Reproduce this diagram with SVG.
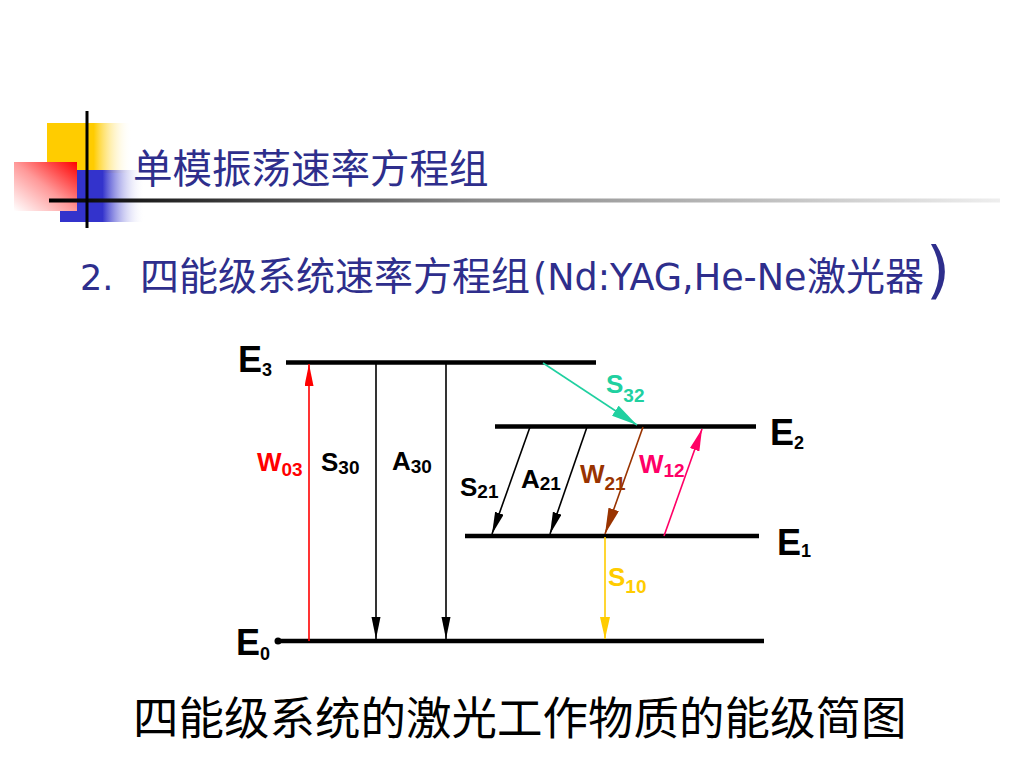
<svg xmlns="http://www.w3.org/2000/svg" width="1024" height="768" viewBox="0 0 1024 768">
<defs>
<linearGradient id="gY" x1="0" y1="0" x2="1" y2="0"><stop offset="0" stop-color="#ffcc00"/><stop offset="0.55" stop-color="#ffcc00"/><stop offset="1" stop-color="#ffffff" stop-opacity="0"/></linearGradient>
<linearGradient id="gB" x1="0" y1="0" x2="1" y2="0"><stop offset="0" stop-color="#3333cc"/><stop offset="0.5" stop-color="#3333cc"/><stop offset="1" stop-color="#ffffff" stop-opacity="0"/></linearGradient>
<linearGradient id="gR" x1="0" y1="1" x2="1" y2="0"><stop offset="0" stop-color="#ffffff"/><stop offset="0.5" stop-color="#ff9999"/><stop offset="1" stop-color="#ff0000"/></linearGradient>
<linearGradient id="gL" x1="0" y1="0" x2="1" y2="0"><stop offset="0" stop-color="#000000"/><stop offset="0.45" stop-color="#888888"/><stop offset="1" stop-color="#eeeeee"/></linearGradient>
<marker id="aK" markerUnits="userSpaceOnUse" markerWidth="24" markerHeight="12" refX="22" refY="4.5" orient="auto"><path d="M0,0 L22,4.5 L0,9 z" fill="#000"/></marker>
<marker id="aR" markerUnits="userSpaceOnUse" markerWidth="24" markerHeight="12" refX="22" refY="4.5" orient="auto"><path d="M0,0 L22,4.5 L0,9 z" fill="#ff0000"/></marker>
<marker id="aT" markerUnits="userSpaceOnUse" markerWidth="28" markerHeight="14" refX="26" refY="6" orient="auto"><path d="M0,0 L26,6 L0,12 z" fill="#20d0a0"/></marker>
<marker id="aN" markerUnits="userSpaceOnUse" markerWidth="28" markerHeight="14" refX="26" refY="5.5" orient="auto"><path d="M0,0 L26,5.5 L0,11 z" fill="#993300"/></marker>
<marker id="aP" markerUnits="userSpaceOnUse" markerWidth="24" markerHeight="12" refX="22" refY="5" orient="auto"><path d="M0,0 L22,5 L0,10 z" fill="#ff0066"/></marker>
<marker id="aY" markerUnits="userSpaceOnUse" markerWidth="24" markerHeight="12" refX="22" refY="5" orient="auto"><path d="M0,0 L22,5 L0,10 z" fill="#ffcc00"/></marker>
</defs>
<style>
.cn{font-family:"Noto Sans CJK SC","Noto Sans",sans-serif;fill:#2e2e8c}
.lat{font-family:"DejaVu Sans","Liberation Sans",sans-serif;fill:#2e2e8c}
.lvl{stroke:#000;stroke-width:4.5;fill:none}
.lab{font-family:"Liberation Sans",Arial,sans-serif;font-weight:bold}
.E{font-size:36px}
.sub{font-size:18px}
.t{font-size:26px}
.s{font-size:19px}
.ar{fill:none;stroke-width:1.6}
</style>
<rect width="1024" height="768" fill="#ffffff"/>
<g id="decoration">
<rect x="47" y="123" width="85" height="50" fill="url(#gY)"/>
<rect x="60" y="170" width="85" height="52" fill="url(#gB)"/>
<rect x="14" y="162" width="63" height="49" fill="url(#gR)"/>
<rect x="49" y="198.5" width="951" height="4" fill="url(#gL)"/>
<line x1="87" y1="111" x2="87" y2="228" stroke="#000" stroke-width="3"/>
</g>
<text id="title" class="cn" x="133" y="183" font-size="39.5">单模振荡速率方程组</text>
<g id="subtitle">
<text class="lat" x="80" y="290" font-size="35">2.</text>
<text class="cn" x="140" y="290" font-size="39">四能级系统速率方程组</text>
<text class="lat" x="533" y="290" font-size="36.5">(Nd:YAG,He-Ne</text>
<text class="cn" x="807" y="290" font-size="39">激光器</text>
<text class="lat" x="926" y="291" font-size="62">)</text>
</g>
<g id="level-E3"><line class="lvl" x1="286" y1="362.5" x2="596" y2="362.5"/><text class="lab E" x="238" y="372">E<tspan class="sub" dy="4">3</tspan></text></g>
<g id="level-E2"><line class="lvl" x1="495" y1="426.5" x2="756" y2="426.5"/><text class="lab E" x="770" y="445">E<tspan class="sub" dy="4">2</tspan></text></g>
<g id="level-E1"><line class="lvl" x1="465" y1="536" x2="759" y2="536"/><text class="lab E" x="777" y="555">E<tspan class="sub" dy="2">1</tspan></text></g>
<g id="level-E0"><circle cx="278" cy="641" r="3.5" fill="#000"/><line class="lvl" x1="278" y1="641" x2="764" y2="641"/><text class="lab E" x="236" y="655">E<tspan class="sub" dy="5">0</tspan></text></g>
<g id="connectors">
<line class="ar" x1="309" y1="641" x2="309" y2="364" stroke="#ff0000" marker-end="url(#aR)"/>
<line class="ar" x1="376" y1="362" x2="376" y2="639" stroke="#000" marker-end="url(#aK)"/>
<line class="ar" x1="446" y1="362" x2="446" y2="639" stroke="#000" marker-end="url(#aK)"/>
<line class="ar" x1="543" y1="363" x2="637" y2="425" stroke="#20d0a0" marker-end="url(#aT)"/>
<line class="ar" x1="530" y1="427" x2="492" y2="534" stroke="#000" marker-end="url(#aK)"/>
<line class="ar" x1="587" y1="427" x2="550" y2="534" stroke="#000" marker-end="url(#aK)"/>
<line class="ar" x1="643" y1="427" x2="605" y2="534" stroke="#993300" marker-end="url(#aN)"/>
<line class="ar" x1="664" y1="536" x2="702" y2="429" stroke="#ff0066" marker-end="url(#aP)"/>
<line class="ar" x1="605" y1="537" x2="605" y2="639" stroke="#ffcc00" marker-end="url(#aY)"/>
</g>
<g id="labels">
<text class="lab t" x="257" y="471" fill="#ff0000">W<tspan class="s" dy="5">03</tspan></text>
<text class="lab t" x="321" y="471" fill="#000">S<tspan class="s" dy="3">30</tspan></text>
<text class="lab t" x="392" y="470" fill="#000">A<tspan class="s" dy="3">30</tspan></text>
<text class="lab t" x="606" y="393" fill="#20d0a0">S<tspan class="s" dy="9">32</tspan></text>
<text class="lab t" x="460" y="496" fill="#000">S<tspan class="s" dy="2">21</tspan></text>
<text class="lab t" x="521" y="488" fill="#000">A<tspan class="s" dy="2">21</tspan></text>
<text class="lab t" x="580" y="483" fill="#993300">W<tspan class="s" dy="7">21</tspan></text>
<text class="lab t" x="639" y="473" fill="#ff0066">W<tspan class="s" dy="4">12</tspan></text>
<text class="lab t" x="608" y="586" fill="#ffcc00">S<tspan class="s" dy="7">10</tspan></text>
</g>
<text id="caption" x="133" y="735" font-family="Noto Sans CJK SC, sans-serif" font-size="45.5" fill="#000">四能级系统的激光工作物质的能级简图</text>
</svg>
